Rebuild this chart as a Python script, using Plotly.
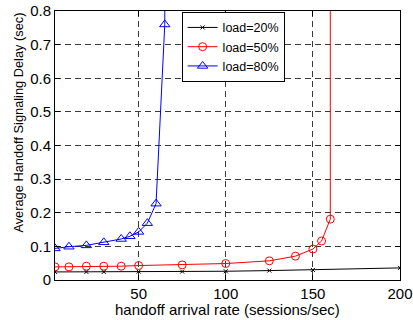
import plotly.graph_objects as go

# handoff arrival rate (sessions/sec)
x20 = [2, 20, 30, 50, 75, 100, 125, 150, 200]
y20 = [0.024, 0.024, 0.024, 0.025, 0.025, 0.026, 0.028, 0.030, 0.036]

x50 = [2, 10, 20, 30, 40, 50, 75, 100, 125, 140, 150, 155, 160, 160.1]
y50 = [0.039, 0.039, 0.041, 0.041, 0.041, 0.043, 0.045, 0.049, 0.057, 0.071, 0.092, 0.116, 0.181, 10]

x80 = [2, 10, 20, 30, 40, 45, 50, 55, 60, 65, 65.05]
y80 = [0.094, 0.099, 0.103, 0.112, 0.122, 0.130, 0.143, 0.169, 0.227, 0.76, 10]

names = ["load=20%", "load=50%", "load=80%"]
xticks = [50, 100, 150, 200]
yticks = [0, 0.1, 0.2, 0.3, 0.4, 0.5, 0.6, 0.7, 0.8]
yticklabels = ["0", "0.1", "0.2", "0.3", "0.4", "0.5", "0.6", "0.7", "0.8"]
xtitle = "handoff arrival rate (sessions/sec)"
ytitle = "Average Handoff Signaling Delay (sec)"

FONT = "Liberation Sans, Arial, sans-serif"

fig = go.Figure()
fig.add_trace(go.Scatter(x=x20, y=y20, mode="lines+markers", name=names[0],
                         line=dict(color="black", width=1),
                         marker=dict(symbol="x-thin", size=4, line=dict(color="black", width=1))))
fig.add_trace(go.Scatter(x=x50, y=y50, mode="lines+markers", name=names[1],
                         line=dict(color="red", width=1),
                         marker=dict(symbol="circle-open", size=8, color="red", line=dict(width=1))))
fig.add_trace(go.Scatter(x=x80, y=y80, mode="lines+markers", name=names[2],
                         line=dict(color="blue", width=1),
                         marker=dict(symbol="triangle-up-open", size=9, color="blue", line=dict(width=1))))

axis_common = dict(showline=True, linecolor="black", linewidth=1, mirror="ticks",
                   ticks="inside", ticklen=5, tickcolor="black", automargin=False,
                   showgrid=True, gridcolor="#3a3a3a", gridwidth=1, griddash="6px,4px",
                   zeroline=False, tickfont=dict(family=FONT, size=15, color="black"))

fig.update_xaxes(range=[2, 200], tickvals=xticks, ticktext=[str(v) for v in xticks],
                 **axis_common)
fig.update_yaxes(range=[0, 0.8], tickvals=yticks, ticktext=yticklabels,
                 **axis_common)

fig.add_annotation(text=xtitle, xref="paper", yref="paper", x=0.5, y=-0.1115,
                   xanchor="center", yanchor="middle", showarrow=False,
                   font=dict(family=FONT, size=15, color="black"))
fig.add_annotation(text=ytitle, xref="paper", yref="paper", x=-0.107, y=0.5855,
                   xanchor="center", yanchor="middle", showarrow=False, textangle=-90,
                   font=dict(family=FONT, size=12.8, color="black"))

fig.update_layout(
    width=413, height=320,
    margin=dict(l=55, r=13, t=11, b=40),
    paper_bgcolor="white", plot_bgcolor="white",
    font=dict(family=FONT, color="black"),
    showlegend=True,
    legend=dict(x=0.367, y=0.997, xanchor="left", yanchor="top",
                bgcolor="white", bordercolor="black", borderwidth=1,
                font=dict(family=FONT, size=12.5, color="black"),
                tracegroupgap=0, itemwidth=30),
)

fig.write_html("out.html", config={"displayModeBar": False},
               post_script="document.body.style.margin='0';document.body.style.padding='0';")
